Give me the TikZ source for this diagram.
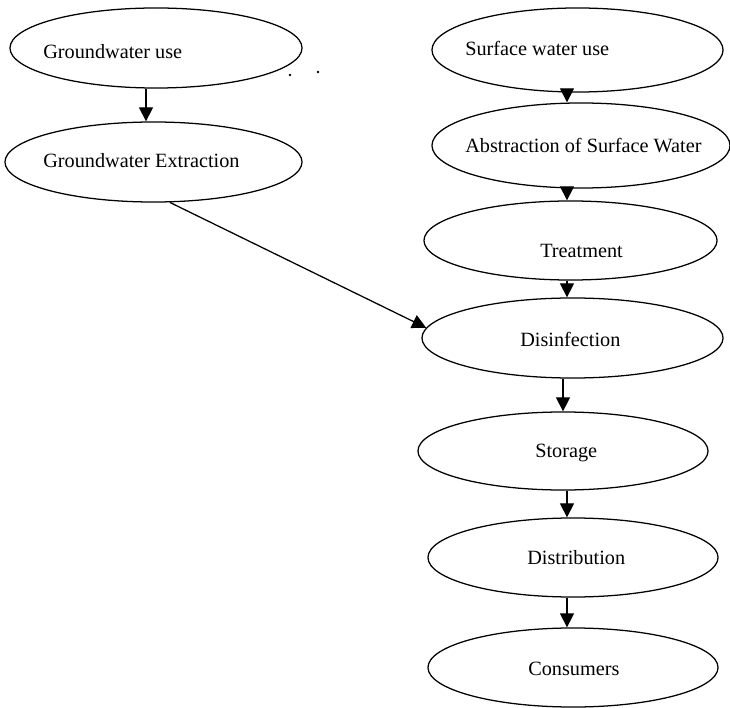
\documentclass[tikz,border=0pt]{standalone}
\usepackage{fontspec}
\setmainfont{Liberation Serif}
\usetikzlibrary{arrows.meta, shapes.geometric}

\begin{document}
\begin{tikzpicture}[x=0.025cm, y=-0.025cm,
  stage/.style={draw, ellipse, line width=0.9pt, inner sep=0pt},
  lbl/.style={anchor=base west, inner sep=0pt, font=\fontsize{14.4}{17}\selectfont},
  flow/.style={-{Triangle[length=10pt,width=10pt]}, line width=0.9pt}]

\useasboundingbox (0,0) rectangle (730,708);

% Lado da agua subterranea
\node[stage, minimum width=7.3cm, minimum height=2cm] (gwuse) at (156,48) {};
\node[lbl] (tgwuse) at (43,59) {Groundwater use};
\node[stage, minimum width=7.425cm, minimum height=2cm] (gwext) at (153.5,162) {};
\node[lbl] (tgwext) at (43,168) {Groundwater Extraction};

% Pontinhos soltos
\fill (290,75) circle (1.4);
\fill (318,72) circle (1.4);

% Lado da agua superficial
\node[stage, minimum width=7.275cm, minimum height=2.1cm] (swuse) at (577.5,50) {};
\node[lbl] (tswuse) at (465,56) {Surface water use};
\node[stage, minimum width=7.45cm, minimum height=2.125cm] (abs) at (581,145.5) {};
\node[lbl] (tabs) at (465,153) {Abstraction of Surface Water};
\node[stage, minimum width=7.325cm, minimum height=1.975cm] (treat) at (570.5,240.5) {};
\node[lbl] (ttreat) at (540,258) {Treatment};

% Cadeia comum
\node[stage, minimum width=7.525cm, minimum height=2cm] (disinf) at (572.5,338) {};
\node[lbl] (tdisinf) at (520,347) {Disinfection};
\node[stage, minimum width=7.25cm, minimum height=1.95cm] (store) at (563,451) {};
\node[lbl] (tstore) at (535,457) {Storage};
\node[stage, minimum width=7.25cm, minimum height=1.975cm] (dist) at (573,557.5) {};
\node[lbl] (tdist) at (527,564) {Distribution};
\node[stage, minimum width=7.25cm, minimum height=1.975cm] (cons) at (573,667.5) {};
\node[lbl] (tcons) at (528,675) {Consumers};

% Setas
\coordinate (lrail) at (146,0);
\coordinate (rrail) at (567,0);
\coordinate (mrail) at (563,0);
\draw[flow] (gwuse.south -| lrail) -- (gwext.north -| lrail);
\draw[flow] (gwext.-68) -- (disinf.176);
\draw[flow] (swuse.south -| rrail) -- (abs.north -| rrail);
\draw[flow] (abs.south -| rrail) -- (treat.north -| rrail);
\draw[flow] (treat.south -| rrail) -- (disinf.north -| rrail);
\draw[flow] (disinf.south -| mrail) -- (store.north -| mrail);
\draw[flow] (store.south -| rrail) -- (dist.north -| rrail);
\draw[flow] (dist.south -| rrail) -- (cons.north -| rrail);

\end{tikzpicture}
\end{document}
